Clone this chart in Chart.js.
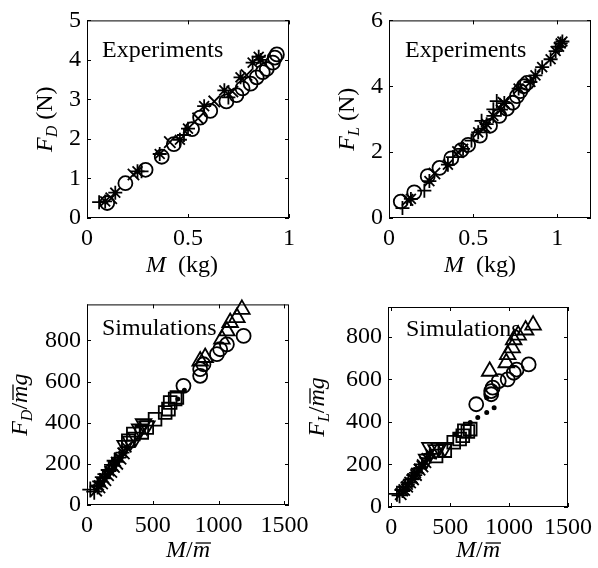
<!DOCTYPE html>
<html lang="en">
<head>
<meta charset="UTF-8">
<title>Drag and lift scaling</title>
<style>
  body { margin: 0; background: #fff; overflow: hidden; }
  #wrap { position: relative; width: 598px; height: 568px; }
  canvas { position: absolute; }
</style>
<script src="https://cdn.jsdelivr.net/npm/chart.js"></script>
</head>
<body>
<div id="wrap">
  <canvas id="c1" width="330" height="284" style="left:0;top:0"></canvas>
  <canvas id="c2" width="300" height="284" style="left:298px;top:0"></canvas>
  <canvas id="c4" width="300" height="284" style="left:298px;top:284px"></canvas>
  <canvas id="c3" width="330" height="284" style="left:0;top:284px"></canvas>
</div>
<script>
// ---- top left: drag, experiments (M in kg, F_D in N)
const dragExpXTicks = [0, 0.5, 1];
const dragExpYTicks = [0, 1, 2, 3, 4, 5];
const dragExpCircM = [0.10, 0.19, 0.29, 0.37, 0.43, 0.52, 0.56, 0.61, 0.69, 0.74, 0.77, 0.81, 0.84, 0.87, 0.89, 0.92, 0.93, 0.94];
const dragExpCircF = [0.38, 0.88, 1.22, 1.55, 1.87, 2.25, 2.54, 2.71, 2.95, 3.11, 3.28, 3.40, 3.56, 3.69, 3.77, 3.93, 4.06, 4.14];
const dragExpStarM = [0.09, 0.14, 0.25, 0.36, 0.46, 0.50, 0.58, 0.68, 0.76, 0.82, 0.85, 0.86];
const dragExpStarF = [0.42, 0.64, 1.18, 1.62, 1.98, 2.26, 2.83, 3.23, 3.56, 3.93, 4.08, 4.00];
const dragExpXM = [0.12, 0.23, 0.41, 0.55, 0.63, 0.72, 0.79];
const dragExpXF = [0.50, 1.10, 1.92, 2.52, 2.95, 3.20, 3.62];
const dragExpPlusM = [0.06, 0.27, 0.48, 0.70];
const dragExpPlusF = [0.40, 1.18, 2.10, 3.05];

// ---- top right: lift, experiments (M in kg, F_L in N)
const liftExpXTicks = [0, 0.5, 1];
const liftExpYTicks = [0, 2, 4, 6];
const liftExpCircM = [0.07, 0.15, 0.23, 0.30, 0.37, 0.43, 0.47, 0.54, 0.60, 0.655, 0.70, 0.735, 0.76, 0.78, 0.80, 0.82];
const liftExpCircF = [0.50, 0.78, 1.27, 1.52, 1.81, 2.06, 2.22, 2.50, 2.80, 3.10, 3.32, 3.50, 3.70, 3.85, 4.00, 4.10];
const liftExpStarM = [0.13, 0.24, 0.35, 0.44, 0.53, 0.58, 0.62, 0.665, 0.685, 0.77, 0.84, 0.87, 0.91, 0.96, 0.99, 1.01, 1.02, 1.03];
const liftExpStarF = [0.58, 1.12, 1.62, 2.10, 2.60, 2.85, 3.10, 3.29, 3.49, 3.93, 4.13, 4.33, 4.58, 4.82, 5.07, 5.20, 5.30, 5.36];
const liftExpPlusM = [0.08, 0.21, 0.38, 0.49, 0.55, 0.62, 0.64];
const liftExpPlusF = [0.30, 0.83, 1.85, 2.35, 2.95, 3.30, 3.55];
const liftExpXM = [0.11, 0.27, 0.41, 0.57, 0.68];
const liftExpXF = [0.55, 1.35, 2.00, 2.75, 3.50];

// ---- bottom left: drag, simulations (M/m, F_D/mg)
const dragSimXTicks = [0, 500, 1000, 1500];
const dragSimYTicks = [0, 200, 400, 600, 800];
const dragSimPlusM = [25, 55, 80, 100, 120, 140, 165, 190, 210];
const dragSimPlusF = [75, 65, 90, 115, 135, 150, 170, 195, 215];
const dragSimXM = [70, 95, 115, 140, 160, 185, 205, 230, 255, 280];
const dragSimXF = [70, 85, 105, 120, 145, 160, 185, 200, 225, 250];
const dragSimStarM = [90, 130, 170, 200, 220, 245, 270, 300];
const dragSimStarF = [95, 130, 165, 190, 210, 230, 255, 280];
const dragSimDownM = [290, 330, 370, 400, 430, 455];
const dragSimDownF = [290, 310, 330, 370, 395, 385];
const dragSimSqM = [314, 352, 416, 454, 517, 594, 619, 632, 670, 683];
const dragSimSqF = [312, 345, 353, 377, 417, 450, 466, 498, 515, 523];
const dragSimCircM = [733, 860, 860, 885, 987, 1012, 1063, 1190];
const dragSimCircF = [579, 628, 660, 684, 733, 757, 781, 822];
const dragSimUpM = [860, 898, 1025, 1063, 1088, 1139, 1177];
const dragSimUpF = [700, 717, 806, 846, 887, 911, 951];
const dragSimDotM = [690, 740];
const dragSimDotF = [515, 558];

// ---- bottom right: lift, simulations (M/m, F_L/mg)
const liftSimXTicks = [0, 500, 1000, 1500];
const liftSimYTicks = [0, 200, 400, 600, 800];
const liftSimPlusM = [48, 70, 95, 120, 145, 170, 195];
const liftSimPlusF = [62, 55, 80, 95, 115, 130, 150];
const liftSimXM = [80, 110, 135, 160, 185, 210, 240, 265, 290];
const liftSimXF = [60, 80, 95, 115, 130, 150, 175, 190, 210];
const liftSimStarM = [100, 140, 180, 210, 235, 260, 300, 330];
const liftSimStarF = [75, 105, 135, 160, 180, 200, 230, 250];
const liftSimDownM = [300, 328, 380, 404, 454];
const liftSimDownF = [225, 280, 270, 280, 280];
const liftSimSqM = [380, 454, 530, 580, 607, 620, 650, 670];
const liftSimSqF = [240, 265, 304, 320, 335, 358, 355, 366];
const liftSimDotM = [543, 670, 734, 810, 873, 810];
const liftSimDotF = [342, 397, 421, 444, 467, 514];
const liftSimCircM = [721, 848, 848, 861, 912, 988, 1039, 1064, 1166];
const liftSimCircF = [483, 530, 545, 561, 592, 600, 631, 646, 670];
const liftSimUpM = [835, 976, 988, 1026, 1039, 1077, 1140, 1204];
const liftSimUpF = [638, 678, 716, 748, 786, 808, 832, 855];

const FONT = '"Liberation Serif", "DejaVu Serif", serif';
const FS = 24;

function series(xs, ys, style, r, extra) {
  return Object.assign({
    data: xs.map((x, i) => ({ x: x, y: ys[i] })),
    pointStyle: style,
    pointRadius: r,
    pointBorderColor: '#000',
    pointBackgroundColor: 'rgba(0,0,0,0)',
    pointBorderWidth: 1.8,
    showLine: false,
    clip: false
  }, extra || {});
}

// text with italic parts, subscripts and an overbar
function drawRich(ctx, parts, cx, cy, rot, base) {
  ctx.save();
  ctx.translate(cx, cy);
  ctx.rotate(rot);
  const fontOf = p => (p.i ? 'italic ' : '') + (p.sub ? 16 : FS) + 'px ' + FONT;
  let w = 0;
  parts.forEach(p => { ctx.font = fontOf(p); p.w = ctx.measureText(p.t).width; w += p.w; });
  let x = -w / 2;
  ctx.textAlign = 'left';
  ctx.textBaseline = 'alphabetic';
  ctx.fillStyle = '#000';
  parts.forEach(p => {
    ctx.font = fontOf(p);
    const y = base + (p.sub ? 5 : 0);
    ctx.fillText(p.t, x, y);
    if (p.bar) {
      ctx.lineWidth = 1.3;
      ctx.beginPath();
      ctx.moveTo(x + 3, y - 14);
      ctx.lineTo(x + p.w + 1, y - 14);
      ctx.strokeStyle = '#000';
      ctx.stroke();
    }
    x += p.w;
  });
  ctx.restore();
}

const framePlugin = {
  id: 'frame',
  afterDraw(chart, args, o) {
    const { ctx, chartArea: a, scales } = chart;
    ctx.save();
    ctx.strokeStyle = '#000';
    ctx.lineWidth = 1;
    ctx.strokeRect(a.left + 0.5, a.top + 0.5, a.right - a.left - 1, a.bottom - a.top - 1);
    const tl = 4;
    ctx.beginPath();
    scales.x.ticks.forEach(t => {
      const p = Math.round(scales.x.getPixelForValue(t.value)) + 0.5;
      ctx.moveTo(p, a.bottom); ctx.lineTo(p, a.bottom - tl);
      ctx.moveTo(p, a.top); ctx.lineTo(p, a.top + tl);
    });
    scales.y.ticks.forEach(t => {
      const p = Math.round(scales.y.getPixelForValue(t.value)) + 0.5;
      ctx.moveTo(a.left, p); ctx.lineTo(a.left + tl, p);
      ctx.moveTo(a.right, p); ctx.lineTo(a.right - tl, p);
    });
    ctx.stroke();
    ctx.fillStyle = '#000';
    ctx.font = FS + 'px ' + FONT;
    ctx.textAlign = 'left';
    ctx.textBaseline = 'alphabetic';
    ctx.fillText(o.note, a.left + o.noteDx, a.top + o.noteDy);
    drawRich(ctx, o.xTitle, (a.left + a.right) / 2 + o.xShift, a.bottom + o.xDy, 0, 0);
    drawRich(ctx, o.yTitle, a.left - o.yDx, (a.top + a.bottom) / 2, -Math.PI / 2, 7);
    ctx.restore();
  }
};

function axis(min, max, tickVals, fit) {
  return {
    type: 'linear',
    min: min,
    max: max,
    afterBuildTicks: s => { s.ticks = tickVals.map(v => ({ value: v })); },
    afterFit: fit,
    grid: { display: false, drawTicks: false },
    border: { display: false },
    ticks: {
      color: '#000', font: { family: FONT, size: FS }, padding: 6, maxRotation: 0, autoSkip: false,
      callback: v => String(v)
    }
  };
}

function makeChart(id, c) {
  return new Chart(document.getElementById(id), {
    type: 'scatter',
    data: { datasets: c.datasets },
    options: {
      responsive: false,
      animation: false,
      layout: { autoPadding: false, padding: c.pad },
      plugins: { legend: { display: false }, tooltip: { enabled: false }, frame: c.frame },
      scales: {
        x: axis(c.x[0], c.x[1], c.xTicks, s => { s.height = c.xH; }),
        y: axis(c.y[0], c.y[1], c.yTicks, s => { s.width = c.yW; })
      }
    },
    plugins: [framePlugin]
  });
}

const expX = [{ t: 'M', i: true }, { t: '  (kg)' }];
const simX = [{ t: 'M', i: true }, { t: '/' }, { t: 'm', i: true, bar: true }];

makeChart('c1', {
  pad: { left: 0, right: 41, top: 15, bottom: 0 }, yW: 87, xH: 66,
  x: [0, 1], y: [0, 5], xTicks: dragExpXTicks, yTicks: dragExpYTicks,
  datasets: [
    series(dragExpCircM, dragExpCircF, 'circle', 7),
    series(dragExpStarM, dragExpStarF, 'star', 7),
    series(dragExpXM, dragExpXF, 'crossRot', 8),
    series(dragExpPlusM, dragExpPlusF, 'cross', 7)
  ],
  frame: { note: 'Experiments', noteDx: 15, noteDy: 37, xTitle: expX, xShift: -6, xDy: 54,
    yTitle: [{ t: 'F', i: true }, { t: 'D', i: true, sub: true }, { t: ' (N)' }], yDx: 42 }
});

makeChart('c2', {
  pad: { left: 0, right: 7, top: 15, bottom: 0 }, yW: 91, xH: 66,
  x: [0, 1.2], y: [0, 6], xTicks: liftExpXTicks, yTicks: liftExpYTicks,
  datasets: [
    series(liftExpCircM, liftExpCircF, 'circle', 7),
    series(liftExpStarM, liftExpStarF, 'star', 7),
    series(liftExpXM, liftExpXF, 'crossRot', 8),
    series(liftExpPlusM, liftExpPlusF, 'cross', 7)
  ],
  frame: { note: 'Experiments', noteDx: 16, noteDy: 37, xTitle: expX, xShift: -10, xDy: 54,
    yTitle: [{ t: 'F', i: true }, { t: 'L', i: true, sub: true }, { t: ' (N)' }], yDx: 42 }
});

makeChart('c3', {
  pad: { left: 0, right: 41, top: 20, bottom: 0 }, yW: 87, xH: 63,
  x: [0, 1535], y: [0, 975], xTicks: dragSimXTicks, yTicks: dragSimYTicks,
  datasets: [
    series(dragSimPlusM, dragSimPlusF, 'cross', 8),
    series(dragSimXM, dragSimXF, 'crossRot', 8),
    series(dragSimStarM, dragSimStarF, 'star', 7),
    series(dragSimDownM, dragSimDownF, 'triangle', 9, { pointRotation: 180 }),
    series(dragSimSqM, dragSimSqF, 'rect', 9),
    series(dragSimCircM, dragSimCircF, 'circle', 7),
    series(dragSimUpM, dragSimUpF, 'triangle', 9),
    series(dragSimDotM, dragSimDotF, 'circle', 1.6, { pointBackgroundColor: '#000' })
  ],
  frame: { note: 'Simulations', noteDx: 15, noteDy: 31, xTitle: simX, xShift: 0, xDy: 52,
    yTitle: [{ t: 'F', i: true }, { t: 'D', i: true, sub: true }, { t: '/' }, { t: 'm', i: true, bar: true }, { t: 'g', i: true }], yDx: 67 }
});

makeChart('c4', {
  pad: { left: 0, right: 9, top: 23, bottom: 0 }, yW: 90, xH: 61,
  x: [-28, 1500], y: [0, 940], xTicks: liftSimXTicks, yTicks: liftSimYTicks,
  datasets: [
    series(liftSimPlusM, liftSimPlusF, 'cross', 8),
    series(liftSimXM, liftSimXF, 'crossRot', 8),
    series(liftSimStarM, liftSimStarF, 'star', 7),
    series(liftSimDownM, liftSimDownF, 'triangle', 9, { pointRotation: 180 }),
    series(liftSimSqM, liftSimSqF, 'rect', 9),
    series(liftSimDotM, liftSimDotF, 'circle', 1.6, { pointBackgroundColor: '#000' }),
    series(liftSimCircM, liftSimCircF, 'circle', 7),
    series(liftSimUpM, liftSimUpF, 'triangle', 9)
  ],
  frame: { note: 'Simulations', noteDx: 18, noteDy: 29, xTitle: simX, xShift: 0, xDy: 50,
    yTitle: [{ t: 'F', i: true }, { t: 'L', i: true, sub: true }, { t: '/' }, { t: 'm', i: true, bar: true }, { t: 'g', i: true }], yDx: 71 }
});
</script>
</body>
</html>
